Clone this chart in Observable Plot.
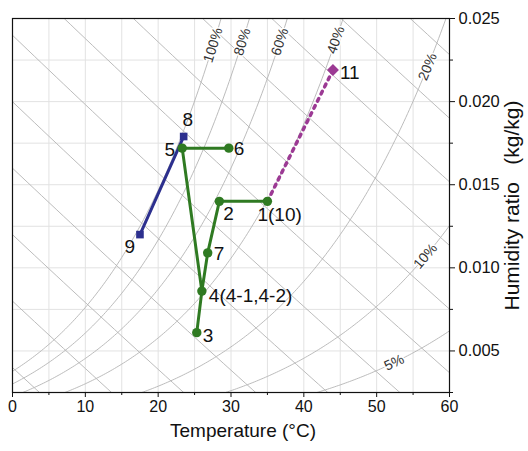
<!DOCTYPE html>
<html><head><meta charset="utf-8">
<script src="https://cdn.jsdelivr.net/npm/d3@7"></script>
<script src="https://cdn.jsdelivr.net/npm/@observablehq/plot@0.6"></script>
<style>body{margin:0;background:#fff}#chart svg{display:block}</style>
</head><body><div id="chart"></div>
<script>
// ---- data ----
const pointNames = ["1(10)", "2", "3", "4(4-1,4-2)", "5", "6", "7", "8", "9", "11"];
const pointT     = [35.0, 28.4, 25.3, 26.0, 23.3, 29.7, 26.8, 23.5, 17.5, 44.0];
const pointW     = [0.0140, 0.0140, 0.0061, 0.0086, 0.0172, 0.0172, 0.0109, 0.0179, 0.0120, 0.0219];
const greenPathA = ["6", "5", "4(4-1,4-2)", "3"];
const greenPathB = ["1(10)", "2", "7", "4(4-1,4-2)"];
const bluePath   = ["9", "8"];
const purplePath = ["1(10)", "11"];
const rhLevels   = [100, 80, 60, 40, 20, 10, 5];
const rhLabelW   = [0.0234, 0.0236, 0.0236, 0.0237, 0.0221, 0.0107, 0.0043];
const enthalpyLevels = [10, 20, 30, 40, 50, 60, 70, 80, 90, 100, 110, 120];
const xTicks = [0, 10, 20, 30, 40, 50, 60];
const xMinorTicks = [5, 15, 25, 35, 45, 55];
const xGrid = [5, 10, 15, 20, 25, 30, 35, 40, 45, 50, 55];
const yTicks = [0.005, 0.010, 0.015, 0.020, 0.025];
const yMinorTicks = [0.0025, 0.0075, 0.0125, 0.0175, 0.0225];
const yGrid = [0.005, 0.0075, 0.010, 0.0125, 0.015, 0.0175, 0.020, 0.0225];

// ---- layout (not data) ----
const W = 528, H = 451, mL = 12, mR = 79, mT = 18, mB = 59;
const xDomain = [0, 60], yDomain = [0.0025, 0.025];
const labelLayout = {
  "1(10)": [-10, 14, "start"], "2": [4, 13, "start"], "3": [6, 3, "start"],
  "4(4-1,4-2)": [7, 5, "start"], "5": [-7, 2, "end"], "6": [5, 1, "start"],
  "7": [6, 1, "start"], "8": [4, -17, "middle"], "9": [-5, 12, "end"], "11": [7, 3, "start"]
};

// ---- psychrometrics ----
const P = 101.325;
const ps = T => 0.61094 * Math.exp(17.625 * T / (T + 243.04));
const wAt = (T, rh) => { const pv = rh / 100 * ps(T); return 0.622 * pv / (P - pv); };
const tAt = (w, rh) => { const pv = w * P / (0.622 + w); const l = Math.log(pv / (rh / 100) / 0.61094); return 243.04 * l / (17.625 - l); };

const rhRows = [];
for (const rh of rhLevels) for (let T = -2; T <= 62; T += 0.25) { const w = wAt(T, rh); if (w < 0.03) rhRows.push({rh, T, W: w}); }
const hRows = [];
for (const h of enthalpyLevels) for (let T = -5; T <= 65; T += 1) hRows.push({h, T, W: (h - 1.006 * T) / (2501 + 1.86 * T)});

const kx = (W - mL - mR) / (xDomain[1] - xDomain[0]);
const ky = (H - mT - mB) / (yDomain[1] - yDomain[0]);
const rhLabels = rhLevels.map((rh, i) => {
  const T = tAt(rhLabelW[i], rh);
  const slope = (wAt(T + 0.01, rh) - wAt(T - 0.01, rh)) / 0.02;
  return {rh, T, W: rhLabelW[i], angle: -Math.atan(slope * ky / kx) * 180 / Math.PI};
});

const pts = pointNames.map((n, i) => ({name: n, T: pointT[i], W: pointW[i]}));
const byName = n => pts.find(p => p.name === n);
const path = names => names.map(byName);

const green = "#2f7a22", blue = "#2c2f8e", purple = "#9c3a94";

const labelMarks = pts.map(p => {
  const [dx, dy, anchor] = labelLayout[p.name];
  return Plot.text([p], {x: "T", y: "W", text: "name", dx, dy, textAnchor: anchor, fontSize: 19, fill: "#111"});
});

const chart = Plot.plot({
  width: W, height: H, marginLeft: mL, marginRight: mR, marginTop: mT, marginBottom: mB,
  style: {fontFamily: "'Liberation Sans', Arial, sans-serif", background: "#fff", color: "#111"},
  x: {domain: xDomain},
  y: {domain: yDomain},
  marks: [
    Plot.gridX(xGrid, {stroke: "#e2e2e2", strokeOpacity: 1, strokeWidth: 1}),
    Plot.gridY(yGrid, {stroke: "#e2e2e2", strokeOpacity: 1, strokeWidth: 1}),
    Plot.line(hRows, {x: "T", y: "W", z: "h", stroke: "#b4b4b4", strokeWidth: 0.9, clip: true}),
    Plot.line(rhRows, {x: "T", y: "W", z: "rh", stroke: "#b4b4b4", strokeWidth: 0.9, clip: true, curve: "linear"}),
    Plot.text(rhLabels, {x: "T", y: "W", text: d => d.rh + "%", rotate: "angle", fontSize: 14, fill: "#333", stroke: "#fff", strokeWidth: 3}),
    Plot.line(path(purplePath), {x: "T", y: "W", stroke: purple, strokeWidth: 3.5, strokeDasharray: "3,5"}),
    Plot.line(path(bluePath), {x: "T", y: "W", stroke: blue, strokeWidth: 3}),
    Plot.line(path(greenPathA), {x: "T", y: "W", stroke: green, strokeWidth: 3}),
    Plot.line(path(greenPathB), {x: "T", y: "W", stroke: green, strokeWidth: 3}),
    Plot.dot(path(["1(10)", "2", "3", "4(4-1,4-2)", "5", "6", "7"]), {x: "T", y: "W", r: 4.7, fill: green}),
    Plot.dot(path(bluePath), {x: "T", y: "W", r: 4.3, symbol: "square", fill: blue}),
    Plot.dot([byName("11")], {x: "T", y: "W", r: 5.4, symbol: "diamond2", fill: purple}),
    ...labelMarks,
    Plot.frame({stroke: "#111", strokeWidth: 1.2}),
    Plot.axisX({ticks: xTicks, tickSize: 5, tickPadding: 3, fontSize: 16, label: null, tickFormat: d => String(d)}),
    Plot.axisX({ticks: xMinorTicks, tickSize: 3, label: null, tickFormat: () => ""}),
    Plot.axisY({anchor: "right", ticks: yTicks, tickSize: 5, tickPadding: 4, fontSize: 16.5, label: null, tickFormat: d3.format(".3f")}),
    Plot.axisY({anchor: "right", ticks: yMinorTicks, tickSize: 3, label: null, tickFormat: () => ""}),
    Plot.text(["Temperature (\u00b0C)"], {frameAnchor: "bottom", dx: 12, dy: 44, fontSize: 19, fill: "#111", textAnchor: "middle"}),
    Plot.text(["Humidity ratio\u00a0\u00a0\u00a0(kg/kg)"], {frameAnchor: "right", dx: 63, rotate: -90, fontSize: 21, fill: "#111", textAnchor: "middle", letterSpacing: "0.3px"})
  ]
});
document.getElementById("chart").append(chart);
</script>
</body></html>
